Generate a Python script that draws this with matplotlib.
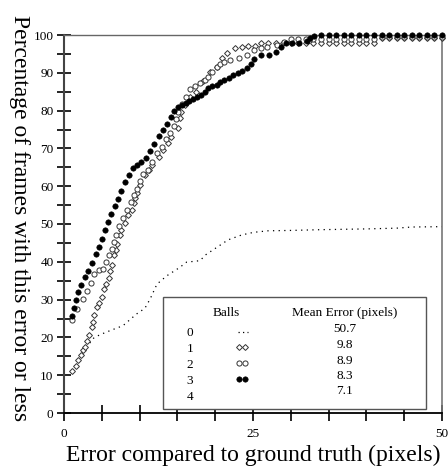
import matplotlib
matplotlib.use("Agg")
import matplotlib.pyplot as plt
from matplotlib.patches import Rectangle

plt.rcParams['font.family'] = ['Liberation Serif', 'DejaVu Serif']

# ---------------- data ----------------
# 0 balls (dotted line)
x0 = [1.0, 2.0, 3.0, 4.0, 5.0, 6.1, 7.8, 9.6, 10.7, 11.4, 12.3, 13.6, 15.3, 16.2,
      18.0, 18.7, 20.2, 21.7, 23.5, 25.1, 27.0, 30.0, 34.0, 40.0, 44.0, 46.0, 50.0]
y0 = [11.0, 14.5, 17.5, 20.0, 20.9, 21.8, 23.1, 26.2, 27.7, 30.2, 34.1, 36.3, 38.5, 39.9,
      40.3, 41.8, 43.8, 45.8, 47.1, 47.8, 48.2, 48.3, 48.5, 48.7, 48.9, 49.2, 49.3]

# 1 ball (open diamonds)
x1 = [1.1, 1.55, 1.9, 2.2, 2.5, 2.8, 3.1, 3.35, 3.7, 3.85, 4.0, 4.3, 4.6, 5.0, 5.3, 5.6,
      5.9, 6.1, 6.3, 6.65, 6.85, 7.05, 7.4, 7.6, 8.07, 8.5, 8.95, 9.2, 9.4, 9.6, 10.05,
      10.7, 11.2, 11.6, 12.5, 13.1, 13.8, 14.2, 15.1, 15.3, 15.5, 16.0, 16.7, 17.5, 18.4,
      19.3, 20.2, 20.9, 21.5, 22.6, 23.5, 24.4, 25.3, 26.1, 27.0, 28, 29, 30, 31, 32, 33,
      34, 35, 36, 37, 38, 39, 40, 41, 42, 43, 44, 45, 46, 47, 48, 49, 50]
y1 = [11.1, 12.5, 14.0, 15.3, 16.7, 17.5, 19.1, 20.6, 22.8, 24.2, 25.9, 28.1, 29.0, 30.6,
      32.7, 34.0, 35.6, 37.6, 39.2, 41.8, 43.2, 44.7, 47.1, 48.4, 50.2, 52.4, 53.7, 55.5,
      56.8, 58.1, 60.3, 63.0, 64.4, 65.6, 67.8, 69.6, 71.3, 73.1, 75.3, 78.0, 79.7, 81.5,
      83.7, 85.0, 87.7, 90.3, 91.6, 93.8, 95.2, 96.5, 96.9, 97.2, 97.2, 97.8, 97.8, 97.9,
      97.9, 97.9, 97.9, 97.9, 97.9, 97.9, 97.9, 97.9, 97.9, 97.9, 97.9, 97.9, 97.9, 99.2,
      99.2, 99.2, 99.2, 99.2, 99.2, 99.2, 99.2, 99.2]

# 2 balls (open circles)
x2 = [1.0, 1.7, 2.5, 3.1, 3.6, 4.0, 4.6, 5.1, 5.5, 6.0, 6.3, 6.6, 6.9, 7.3, 7.8, 8.3,
      8.8, 9.2, 9.6, 10.0, 10.5, 11.1, 11.7, 12.3, 12.9, 13.5, 14.0, 14.5, 14.8, 15.1,
      15.6, 16.1, 16.7, 17.3, 18.0, 18.6, 19.1, 19.6, 20.2, 20.7, 21.2, 22.0, 23.1, 24.2,
      25.1, 26.0, 26.9, 28.2, 29.1, 30, 31, 32, 33, 34, 35, 36, 37, 38, 39, 40, 41, 42,
      43, 44, 45, 46, 47, 48, 49, 50]
y2 = [24.6, 27.5, 30.1, 32.3, 34.5, 36.7, 37.8, 38.2, 40.0, 41.8, 43.3, 45.2, 47.2, 49.5,
      51.6, 53.8, 55.9, 57.6, 59.3, 61.5, 63.3, 64.4, 66.5, 68.7, 70.3, 72.4, 74.0, 75.8,
      77.8, 79.7, 81.8, 83.6, 85.6, 86.6, 87.3, 88.2, 89.0, 90.2, 91.6, 92.3, 92.9, 93.4,
      93.8, 94.7, 96.0, 96.5, 96.9, 97.3, 98.2, 99.0, 99.0, 99.0, 99.0, 99.0, 99.0, 99.0,
      99.0, 99.0, 99.0, 99.0, 99.0, 99.4, 99.4, 99.4, 99.4, 99.4, 99.4, 99.4, 99.4, 99.4]

# 3 balls (filled circles)
x3 = [1.0, 1.3, 1.6, 1.9, 2.3, 2.8, 3.2, 3.7, 4.2, 4.6, 5.0, 5.4, 5.8, 6.2, 6.7, 7.1,
      7.5, 8.1, 8.6, 9.1, 9.6, 10.2, 10.8, 11.4, 11.9, 12.5, 13.1, 13.6, 14.1, 14.6, 15.1,
      15.6, 16.1, 16.6, 17.1, 17.6, 18.1, 18.6, 19.1, 19.6, 20.2, 20.7, 21.2, 21.8, 22.4,
      23.0, 23.6, 24.2, 24.7, 25.1, 26.0, 27.1, 28.0, 28.7, 29.3, 30.2, 31.1, 32.1, 32.6,
      33.1, 34, 35, 36, 37, 38, 39, 40, 41, 42, 43, 44, 45, 46, 47, 48, 49, 50]
y3 = [25.7, 27.8, 29.9, 31.9, 33.9, 35.9, 37.6, 39.8, 42.0, 43.9, 45.9, 48.4, 50.5, 52.6,
      54.7, 56.7, 58.6, 61.0, 63.0, 64.9, 65.5, 66.3, 67.5, 69.2, 71.2, 73.2, 74.9, 76.5,
      78.4, 79.8, 81.0, 81.6, 82.0, 82.6, 83.2, 83.6, 84.2, 85.0, 86.0, 86.5, 86.9, 87.5,
      88.1, 88.7, 89.3, 89.9, 90.5, 91.3, 92.4, 93.6, 94.7, 94.7, 95.4, 96.9, 97.8, 98.0,
      98.0, 98.3, 99.1, 99.7, 100, 100, 100, 100, 100, 100, 100, 100, 100, 100, 100, 100,
      100, 100, 100, 100, 100]

legend_balls = ['0', '1', '2', '3', '4']
legend_errors = ['50.7', '9.8', '8.9', '8.3', '7.1']

# ---------------- figure ----------------
fig = plt.figure(figsize=(4.48, 4.68), dpi=100)
ax = fig.add_axes([64/448, 55/468, 378/448, 378/468])

dstyle = dict(linestyle='none', marker='D', ms=3.0, mfc='white', mec='#333333', mew=0.7)
ostyle = dict(linestyle='none', marker='o', ms=3.7, mfc='white', mec='#333333', mew=0.7)
fstyle = dict(linestyle='none', marker='o', ms=3.9, mfc='black', mec='black', mew=0.4)

ax.plot(x0, y0, color='black', lw=0.9, linestyle=(0, (1, 3.5)), zorder=2)
ax.plot(x1, y1, zorder=3, **dstyle)
ax.plot(x2, y2, zorder=4, **ostyle)
ax.plot(x3, y3, zorder=5, **fstyle)

ax.set_xlim(0, 50)
ax.set_ylim(0, 100)
for m in ax.lines:
    m.set_clip_on(False)

ax.set_xticks([0, 25, 50])
ax.set_xticks([5, 10, 15, 20, 30, 35, 40, 45], minor=True)
ax.set_yticks(range(0, 101, 10))
ax.set_yticks(range(5, 100, 10), minor=True)

ax.tick_params(axis='x', which='both', direction='inout', length=11, width=1.2,
               labelsize=9.5, pad=5, color='black')
ax.tick_params(axis='y', which='both', direction='inout', length=10, width=1.2,
               labelsize=9.5, pad=2.5, color='black')

ax.spines['left'].set_color('#444444')
ax.spines['left'].set_linewidth(1.5)
ax.spines['bottom'].set_color('black')
ax.spines['bottom'].set_linewidth(1.3)
ax.spines['top'].set_color('#666666')
ax.spines['top'].set_linewidth(1.0)
ax.spines['right'].set_color('#777777')
ax.spines['right'].set_linewidth(1.2)

ax.set_xlabel('Error compared to ground truth (pixels)', fontsize=17, labelpad=4)
fig.text(19/448, 1 - 218/468, 'Percentage of frames with this error or less', fontsize=17,
         rotation=270, ha='center', va='center')

# ---------------- legend table ----------------
ax.add_patch(Rectangle((0.262, 0.0106), 0.696, 0.296, transform=ax.transAxes,
                       fill=True, facecolor='white', edgecolor='#555555', lw=1.0, zorder=6))
lfs = 9.5
ax.text(0.429, 0.265, 'Balls', transform=ax.transAxes, ha='center', va='center',
        fontsize=lfs, zorder=7)
ax.text(0.743, 0.265, 'Mean Error (pixels)', transform=ax.transAxes, ha='center',
        va='center', fontsize=lfs, zorder=7)
row_y = [0.212, 0.169, 0.127, 0.085, 0.043]
err_y = [0.222, 0.180, 0.138, 0.097, 0.057]
for b, e, yb, ye in zip(legend_balls, legend_errors, row_y, err_y):
    ax.text(0.333, yb, b, transform=ax.transAxes, ha='center', va='center',
            fontsize=lfs, zorder=7)
    ax.text(0.743, ye, e, transform=ax.transAxes, ha='center', va='center',
            fontsize=lfs, zorder=7)

mx = [0.463, 0.480]
ax.plot([0.459, 0.488], [0.215, 0.215], transform=ax.transAxes, color='black', lw=0.9,
        linestyle=(0, (1, 2.6)), zorder=7)
ax.plot(mx, [0.175, 0.175], transform=ax.transAxes, zorder=7, **dstyle)
ax.plot(mx, [0.133, 0.133], transform=ax.transAxes, zorder=7, **ostyle)
ax.plot(mx, [0.089, 0.089], transform=ax.transAxes, zorder=7, **fstyle)

fig.savefig('out.png', dpi=100)
